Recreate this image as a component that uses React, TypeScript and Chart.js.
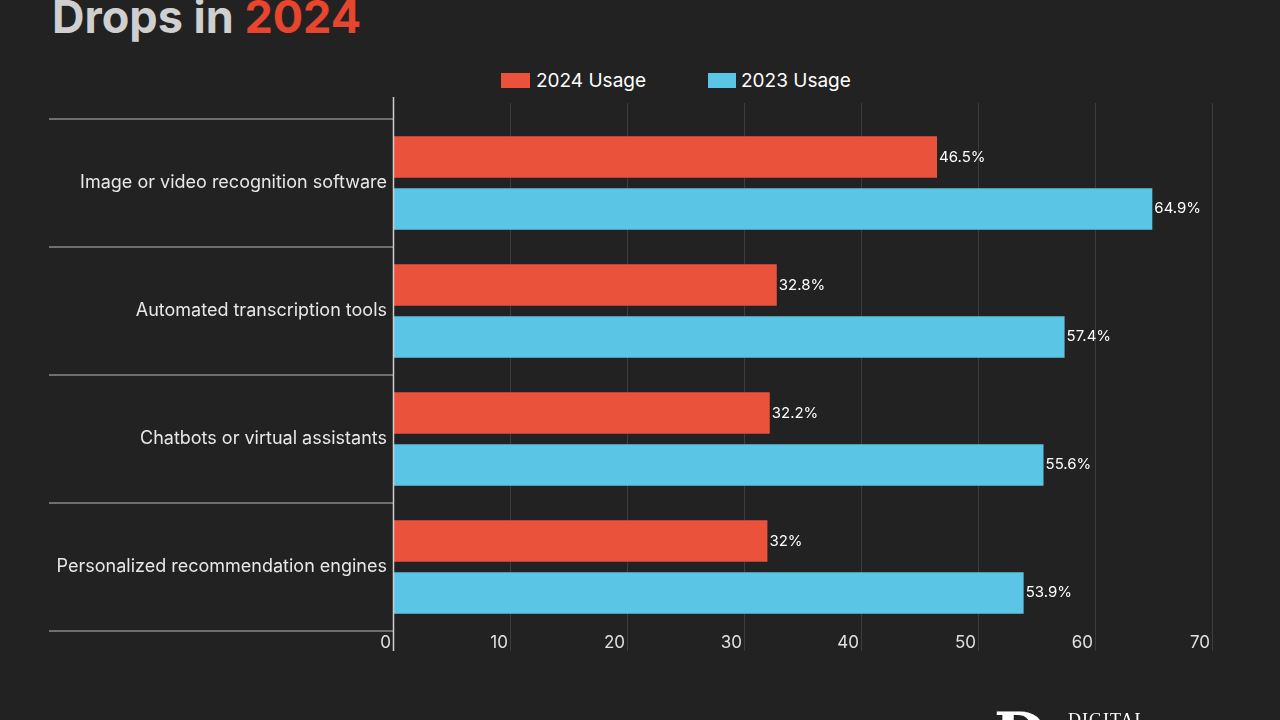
import React, { useEffect, useRef } from "react";
import { Chart, registerables } from "chart.js";

Chart.register(...registerables);

const categories = [
  "Image or video recognition software",
  "Automated transcription tools",
  "Chatbots or virtual assistants",
  "Personalized recommendation engines",
];
const usage2024 = [46.5, 32.8, 32.2, 32];
const usage2023 = [64.9, 57.4, 55.6, 53.9];
const seriesLabels = ["2024 Usage", "2023 Usage"];
const xTickValues = [0, 10, 20, 30, 40, 50, 60, 70];

const RED = "#EB523C";
const BLUE = "#5BC5E5";
const BG = "#222222";
const FONT = "Inter, 'Noto Sans', sans-serif";

const decorPlugin = {
  id: "decor",
  beforeDatasetsDraw(chart: any) {
    const { ctx, chartArea, scales } = chart;
    const x = scales.x;
    const y = scales.y;
    ctx.save();
    ctx.strokeStyle = "#3d3d3d";
    ctx.lineWidth = 1;
    x.ticks.forEach((t: any) => {
      if (t.value === 0) return;
      const px = Math.round(x.getPixelForValue(t.value)) + 0.5;
      ctx.beginPath();
      ctx.moveTo(px, chartArea.top - 16);
      ctx.lineTo(px, chartArea.bottom + 20);
      ctx.stroke();
    });
    ctx.strokeStyle = "#8a8a8a";
    ctx.lineWidth = 1.5;
    const n = categories.length;
    const step = (chartArea.bottom - chartArea.top) / n;
    for (let i = 0; i <= n; i++) {
      const py = chartArea.top + i * step;
      ctx.beginPath();
      ctx.moveTo(y.left, py);
      ctx.lineTo(chartArea.left, py);
      ctx.stroke();
    }
    ctx.restore();
  },
  afterDatasetsDraw(chart: any) {
    const { ctx, chartArea, scales } = chart;
    const x = scales.x;
    ctx.save();
    const zx = Math.round(x.getPixelForValue(0)) + 0.5;
    ctx.strokeStyle = "#cfcfcf";
    ctx.lineWidth = 1.5;
    ctx.beginPath();
    ctx.moveTo(zx, chartArea.top - 22);
    ctx.lineTo(zx, chartArea.bottom + 20);
    ctx.stroke();

    ctx.fillStyle = "#ffffff";
    ctx.font = `15px ${FONT}`;
    ctx.textAlign = "left";
    ctx.textBaseline = "middle";
    chart.data.datasets.forEach((ds: any, di: number) => {
      const meta = chart.getDatasetMeta(di);
      meta.data.forEach((bar: any, i: number) => {
        ctx.fillText(`${ds.data[i]}%`, bar.x + 2, bar.y);
      });
    });
    ctx.restore();
  },
};

export default function App() {
  const canvasRef = useRef<HTMLCanvasElement | null>(null);

  useEffect(() => {
    if (!canvasRef.current) return;
    const chart = new Chart(canvasRef.current, {
      type: "bar",
      data: {
        labels: categories,
        datasets: [
          {
            label: seriesLabels[0],
            data: usage2024,
            backgroundColor: RED,
            categoryPercentage: 0.81,
            barPercentage: 0.8,
          },
          {
            label: seriesLabels[1],
            data: usage2023,
            backgroundColor: BLUE,
            categoryPercentage: 0.81,
            barPercentage: 0.8,
          },
        ],
      },
      options: {
        indexAxis: "y",
        responsive: false,
        animation: false,
        layout: { padding: { top: 119, left: 49, right: 68, bottom: 59 } },
        plugins: {
          legend: { display: false },
          tooltip: { enabled: false },
        },
        scales: {
          x: {
            type: "linear",
            min: xTickValues[0],
            max: xTickValues[xTickValues.length - 1],
            afterBuildTicks: (scale: any) => {
              scale.ticks = xTickValues.map((v) => ({ value: v }));
            },
            afterFit: (scale: any) => {
              scale.height = 30;
            },
            grid: { display: false, drawTicks: false },
            border: { display: false },
            ticks: {
              align: "end",
              labelOffset: -2,
              padding: 2,
              color: "#e0e0e0",
              font: { family: FONT, size: 17 },
            },
          },
          y: {
            afterFit: (scale: any) => {
              scale.width = 344;
            },
            grid: { display: false, drawTicks: false },
            border: { display: false },
            ticks: {
              padding: 6,
              color: "#e8e8e8",
              font: { family: FONT, size: 18 },
            },
          },
        },
      },
      plugins: [decorPlugin],
    } as any);
    return () => chart.destroy();
  }, []);

  return (
    <div
      style={{
        position: "fixed",
        left: 0,
        top: 0,
        width: 1280,
        height: 720,
        background: BG,
        overflow: "hidden",
        fontFamily: FONT,
      }}
    >
      <div
        style={{
          position: "absolute",
          left: 52,
          top: -5,
          fontSize: 45,
          lineHeight: "44px",
          fontWeight: 700,
          color: "#cfcfcf",
          whiteSpace: "nowrap",
        }}
      >
        Drops in <span style={{ color: "#E8452F" }}>2024</span>
      </div>

      <div style={{ position: "absolute", left: 501, top: 73, width: 29, height: 15, background: RED }} />
      <div
        style={{ position: "absolute", left: 536, top: 69, fontSize: 19, lineHeight: "24px", color: "#ffffff", whiteSpace: "nowrap" }}
      >
        {seriesLabels[0]}
      </div>
      <div style={{ position: "absolute", left: 708, top: 73, width: 28, height: 15, background: BLUE }} />
      <div
        style={{ position: "absolute", left: 741, top: 69, fontSize: 19, lineHeight: "24px", color: "#ffffff", whiteSpace: "nowrap" }}
      >
        {seriesLabels[1]}
      </div>

      <canvas
        ref={canvasRef}
        width={1280}
        height={720}
        style={{ position: "absolute", left: 0, top: 0, width: 1280, height: 720 }}
      />

      <div
        style={{
          position: "absolute",
          left: 994,
          top: 704,
          fontSize: 60,
          lineHeight: "60px",
          fontWeight: 700,
          fontFamily: "'DejaVu Serif', 'Liberation Serif', serif",
          color: "#ffffff",
        }}
      >
        D
      </div>
      <div
        style={{
          position: "absolute",
          left: 1068,
          top: 710,
          fontSize: 18,
          lineHeight: "20px",
          letterSpacing: 1,
          fontFamily: "'Liberation Serif', serif",
          color: "#ffffff",
        }}
      >
        DIGITAL
      </div>
    </div>
  );
}
